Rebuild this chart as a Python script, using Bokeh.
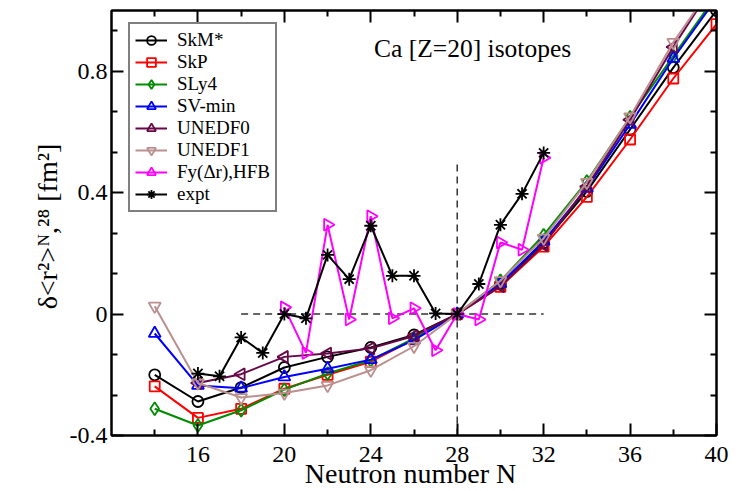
from bokeh.plotting import figure
from bokeh.models import Range1d, LinearAxis, FixedTicker, Legend, LegendItem, Label
from bokeh.embed import file_html
from bokeh.resources import INLINE

# ---------------- data ----------------
N_theory = [14, 16, 18, 20, 22, 24, 26, 28, 30, 32, 34, 36, 38, 40]
skm = [-0.200, -0.288, -0.242, -0.176, -0.141, -0.110, -0.069, 0.0, 0.100, 0.235, 0.404, 0.608, 0.812, 1.000]
skp = [-0.238, -0.342, -0.312, -0.246, -0.200, -0.157, -0.083, 0.0, 0.090, 0.222, 0.386, 0.575, 0.776, 0.955]
sly4 = [-0.312, -0.367, -0.317, -0.249, -0.196, -0.152, -0.080, 0.0, 0.110, 0.260, 0.437, 0.648, 0.850, 1.050]
svmin = [-0.064, -0.235, -0.244, -0.207, -0.180, -0.150, -0.086, 0.0, 0.100, 0.240, 0.415, 0.625, 0.842, 1.040]
unedf1 = [0.026, -0.227, -0.275, -0.260, -0.235, -0.185, -0.106, 0.0, 0.110, 0.250, 0.434, 0.650, 0.895, 1.100]

N_unedf0 = [16, 18, 20, 22, 24, 26, 28, 30, 32, 34, 36, 38, 40]
unedf0 = [-0.227, -0.198, -0.141, -0.130, -0.113, -0.072, 0.0, 0.092, 0.228, 0.420, 0.640, 0.880, 1.100]

N_fy = [20, 21, 22, 23, 24, 25, 26, 27, 28, 29, 30, 31, 32]
fy = [0.022, -0.128, 0.294, -0.018, 0.322, -0.014, 0.019, -0.119, 0.0, -0.018, 0.236, 0.212, 0.515]

N_expt = [16, 17, 18, 19, 20, 21, 22, 23, 24, 25, 26, 27, 28, 29, 30, 31, 32]
expt = [-0.196, -0.205, -0.077, -0.128, 0.0, -0.014, 0.195, 0.115, 0.291, 0.126, 0.126, 0.002, 0.0, 0.099, 0.294, 0.396, 0.531]

# reference (dashed) lines
hline_x = [18, 32]
hline_y = [0.0, 0.0]
vline_x = [28, 28]
vline_y = [-0.4, 0.5]

x_major = [16, 20, 24, 28, 32, 36, 40]
x_minor = [14, 18, 22, 26, 30, 34, 38]
y_major = [-0.4, 0.0, 0.4, 0.8]
y_major_labels = ["-0.4", "0", "0.4", "0.8"]
y_minor = [-0.2667, -0.1333, 0.1333, 0.2667, 0.5333, 0.6667, 0.9333]

title_text = "Ca [Z=20] isotopes"
title_pos = (24.15, 0.875)
x_title = "Neutron number  N"
y_title = "δ<r²>ᴺ,²⁸  [fm²]"

FONT = "Liberation Serif"

p = figure(width=738, height=491, output_backend="svg", toolbar_location=None,
           x_range=Range1d(12, 40), y_range=Range1d(-0.4, 1.0),
           min_border_left=111, min_border_right=22, min_border_top=10, min_border_bottom=54)
p.background_fill_color = "white"
p.border_fill_color = "white"
p.xgrid.visible = False
p.ygrid.visible = False
p.outline_line_color = "black"
p.outline_line_width = 2


def style_axis(ax, ticks, minor, labels=True):
    ax.ticker = FixedTicker(ticks=ticks, minor_ticks=minor)
    ax.axis_line_color = "black"
    ax.axis_line_width = 2
    ax.major_tick_in = 12
    ax.major_tick_out = 0
    ax.minor_tick_in = 6
    ax.minor_tick_out = 0
    ax.major_tick_line_width = 2
    ax.minor_tick_line_width = 2
    ax.major_tick_line_color = "black"
    ax.minor_tick_line_color = "black"
    if labels:
        ax.major_label_text_font = FONT
        ax.major_label_text_font_size = "24px"
        ax.major_label_text_color = "black"
    else:
        ax.major_label_text_font_size = "1px"
        ax.major_label_text_color = None
        ax.major_label_standoff = 0


style_axis(p.xaxis[0], x_major, x_minor)
style_axis(p.yaxis[0], y_major, y_minor)
p.yaxis[0].major_label_overrides = dict(zip(y_major, y_major_labels))
p.xaxis[0].major_label_standoff = 11
p.yaxis[0].major_label_standoff = 4

p.xaxis[0].axis_label = x_title
p.xaxis[0].axis_label_text_font = FONT
p.xaxis[0].axis_label_text_font_size = "28px"
p.xaxis[0].axis_label_text_font_style = "normal"
p.xaxis[0].axis_label_text_color = "black"
p.xaxis[0].axis_label_standoff = -7

p.yaxis[0].axis_label = y_title
p.yaxis[0].axis_label_text_font = FONT
p.yaxis[0].axis_label_text_font_size = "28px"
p.yaxis[0].axis_label_text_font_style = "normal"
p.yaxis[0].axis_label_text_color = "black"
p.yaxis[0].axis_label_standoff = 4

top_ax = LinearAxis()
style_axis(top_ax, x_major, x_minor, labels=False)
p.add_layout(top_ax, "above")
right_ax = LinearAxis()
style_axis(right_ax, y_major, y_minor, labels=False)
p.add_layout(right_ax, "right")

# dashed reference lines
p.line(hline_x, hline_y, line_color="#333333", line_width=1.5, line_dash="7 5")
p.line(vline_x, vline_y, line_color="#333333", line_width=1.5, line_dash="7 5")

series = [
    ("SkM*", N_theory, skm, "black", "circle", 0.0, 11),
    ("SkP", N_theory, skp, "#ff0000", "square", 0.0, 10),
    ("SLy4", N_theory, sly4, "#008b00", "diamond", 0.0, 13),
    ("SV-min", N_theory, svmin, "#0000ff", "triangle", 0.0, 12),
    ("UNEDF0", N_unedf0, unedf0, "#670748", "triangle", 1.5708, 12),
    ("UNEDF1", N_theory, unedf1, "#bc8f8f", "inverted_triangle", 0.0, 12),
    ("Fy(Δr),HFB", N_fy, fy, "#ff00ff", "triangle", -1.5708, 12),
    ("expt", N_expt, expt, "black", "asterisk", 0.0, 13),
]

items = []
for name, xs, ys, col, marker, ang, size in series:
    r_line = p.line(xs, ys, line_color=col, line_width=2)
    r_mark = p.scatter(xs, ys, marker=marker, angle=ang, size=size,
                       line_color=col, line_width=1.8, fill_color=None)
    items.append(LegendItem(label=name, renderers=[r_line, r_mark]))

legend = Legend(items=items, location=(17, 223))
legend.label_text_font = FONT
legend.label_text_font_size = "19px"
legend.label_text_color = "black"
legend.border_line_color = "black"
legend.border_line_width = 2
legend.background_fill_color = "white"
legend.background_fill_alpha = 1.0
legend.padding = 5
legend.spacing = 0
legend.margin = 0
legend.glyph_width = 32
legend.glyph_height = 22
legend.label_height = 22
legend.label_standoff = 10
p.add_layout(legend, "center")

p.add_layout(Label(x=title_pos[0], y=title_pos[1], text=title_text,
                   text_font=FONT, text_font_size="25.5px", text_baseline="middle",
                   text_color="black"))

open("out.html", "w").write(file_html(p, INLINE))
